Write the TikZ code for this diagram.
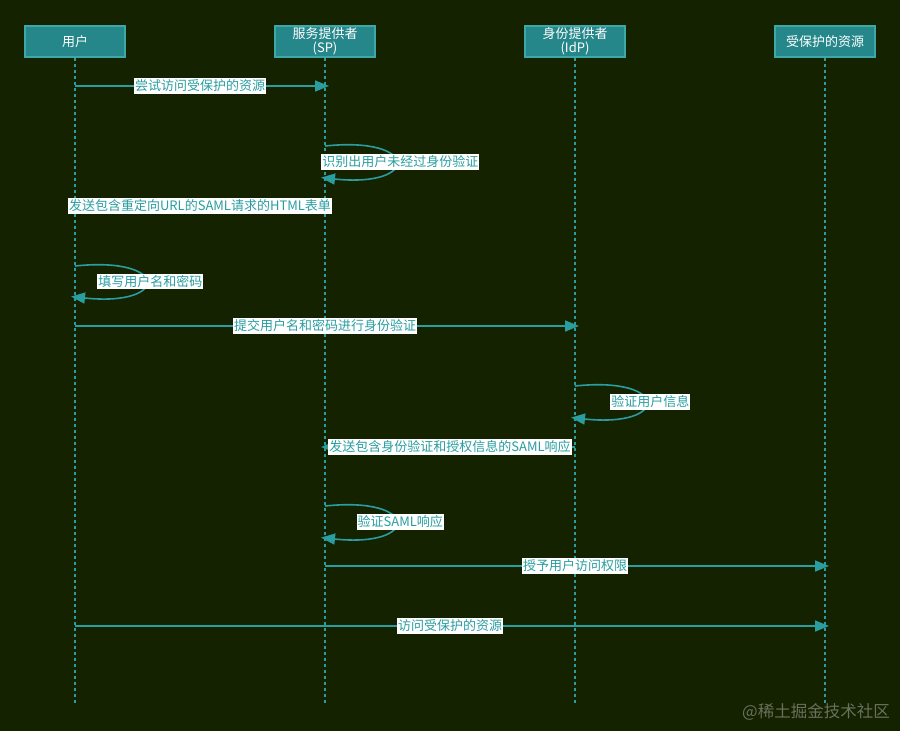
\documentclass[tikz,border=0pt]{standalone}
\usepackage{fontspec}
\newfontfamily\cjk{Noto Sans CJK SC}
\usetikzlibrary{arrows.meta,positioning}
\definecolor{bgcol}{RGB}{21,34,0}
\definecolor{seqline}{RGB}{42,157,160}
\definecolor{boxfill}{RGB}{38,135,138}
\definecolor{boxline}{RGB}{60,168,168}
\definecolor{wmark}{RGB}{105,112,92}

\begin{document}
\begin{tikzpicture}[x=1pt,y=-1pt,
  actor/.style={draw=boxline,fill=boxfill,line width=1.2pt,minimum width=100pt,minimum height=31pt,
    inner sep=0pt,text=white,align=center,font=\cjk\fontsize{13}{14}\selectfont},
  life/.style={draw=seqline,line width=1.5pt,dash pattern=on 3pt off 3pt},
  msg/.style={draw=seqline,line width=1.6pt,shorten >=-4pt,-{Triangle[length=14pt,width=11pt]}},
  lbl/.style={fill=white,text=seqline,inner xsep=1pt,inner ysep=1.5pt,font=\cjk\fontsize{13}{14}\selectfont}]
\fill[bgcol] (0,0) rectangle (900,731);

\node[actor] (user) at (75,41.5) {用户};
\node[actor] (sp)   at (325,41.5) {服务提供者\\(SP)};
\node[actor] (idp)  at (575,41.5) {身份提供者\\(IdP)};
\node[actor] (res)  at (825,41.5) {受保护的资源};

\foreach \p in {user,sp,idp,res}
  \draw[life] (\p.south) -- (\p.south |- 0,703);

\draw[msg] (user.south |- 0,86) -- node[lbl] {尝试访问受保护的资源} (sp.south |- 0,86);
\draw[msg] (sp.south |- 0,146) .. controls +(95,-10) and +(95,10) .. (sp.south |- 0,178)
  node[lbl,pos=.5,xshift=4pt] {识别出用户未经过身份验证};
\draw[msg] (sp.south |- 0,206) -- node[lbl] {发送包含重定向URL的SAML请求的HTML表单} (user.south |- 0,206);
\draw[msg] (user.south |- 0,266) .. controls +(95,-10) and +(95,10) .. (user.south |- 0,297)
  node[lbl,pos=.5,xshift=4pt] {填写用户名和密码};
\draw[msg] (user.south |- 0,326) -- node[lbl] {提交用户名和密码进行身份验证} (idp.south |- 0,326);
\draw[msg] (idp.south |- 0,386) .. controls +(95,-10) and +(95,10) .. (idp.south |- 0,418)
  node[lbl,pos=.5,xshift=4pt] {验证用户信息};
\draw[msg] (idp.south |- 0,447) -- node[lbl] {发送包含身份验证和授权信息的SAML响应} (sp.south |- 0,447);
\draw[msg] (sp.south |- 0,506) .. controls +(95,-10) and +(95,10) .. (sp.south |- 0,538)
  node[lbl,pos=.5,xshift=4pt] {验证SAML响应};
\draw[msg] (sp.south |- 0,566) -- node[lbl] {授予用户访问权限} (res.south |- 0,566);
\draw[msg] (user.south |- 0,626) -- node[lbl] {访问受保护的资源} (res.south |- 0,626);

\node[anchor=east,text=wmark,inner sep=0pt,font=\cjk\fontsize{16.5}{18}\selectfont] (mark) at (890,712) {@稀土掘金技术社区};
\end{tikzpicture}
\end{document}
